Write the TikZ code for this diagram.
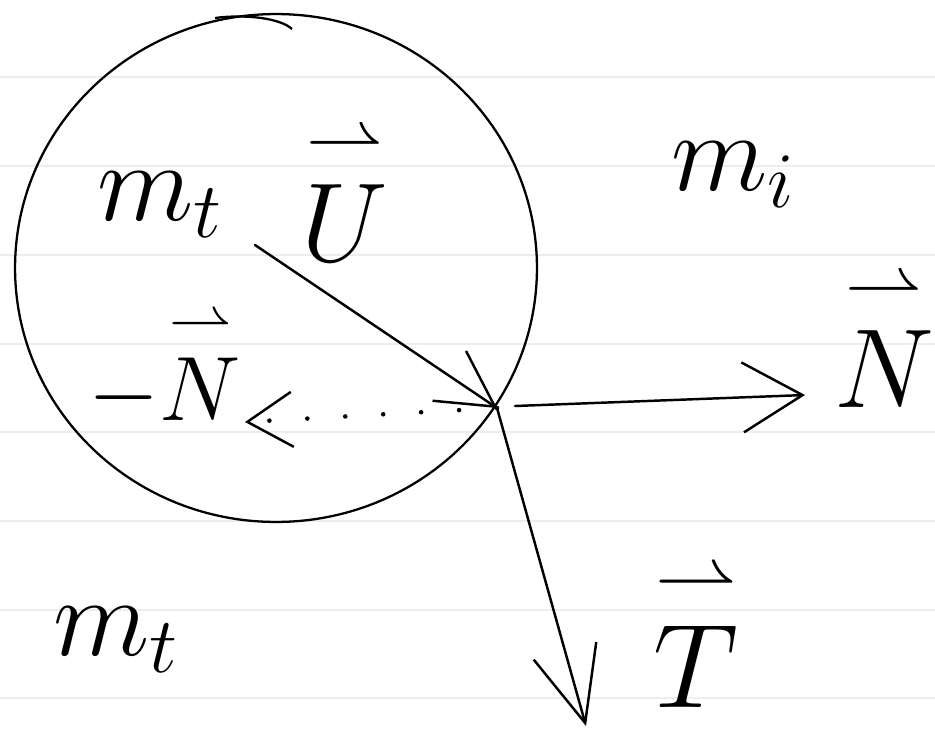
\RequirePackage{fix-cm}
\documentclass[tikz,border=0pt]{standalone}
\usepackage{amsmath,amssymb}
\usepackage{tikz}
\usetikzlibrary{arrows.meta,shapes.geometric}

\newcommand{\hvec}[1]{\overset{\rightharpoonup}{#1}}

\begin{document}
\begin{tikzpicture}[x=0.02cm, y=-0.02cm,
    ruled/.style={draw=black!7, line width=1.2pt},
    body/.style={ellipse, draw=black, line width=1.3pt, minimum width=10.44cm, minimum height=10.16cm, inner sep=0pt},
    vecline/.style={draw, line width=1.4pt, color=black, line cap=round},
    dotline/.style={draw, line width=2.6pt, line cap=round, dash pattern=on 0pt off 0.76cm},
    label/.style={font=\fontsize{64}{64}\selectfont, inner sep=0pt}
]
    \useasboundingbox (0,0) rectangle (935,737);

    % ruled paper
    \foreach \ly in {77,166,255,344,432,521,610,698}
        \draw[ruled] (0,\ly) -- (935,\ly);

    % Body
    \node[body] (ball) at (276,268) {};
    \draw[line width=1.3pt] (215,18) .. controls (245,14) and (280,18) .. (292,29);

    % Points
    \coordinate (P) at (497,408);
    \coordinate (Ustart) at (255,245);
    \coordinate (Nstart) at (515,406);
    \coordinate (Ntip) at (805,395);
    \coordinate (Ttip) at (586,726);
    \coordinate (mNtip) at (245,422);

    % Labels
    \node[label] (mtIn) at (160,205) {$m_t$};
    \node[label] (Ulbl) at (345,192) {$\hvec{U}$};
    \node[label] (mi) at (733,175) {$m_i$};
    \node[label] (Nlbl) at (884,338) {$\hvec{N}$};
    \node[label, font=\fontsize{52}{52}\selectfont] (mNlbl) at (165,368) {$-\hvec{N}$};
    \node[label, font=\fontsize{68}{68}\selectfont] (Tlbl) at (696,634) {$\hvec{T}$};
    \node[label] (mtOut) at (116,640) {$m_t$};

    % Arrows
    \draw[vecline, -{Straight Barb[length=1.1cm,width=1.2cm]}] (Ustart) -- (P);
    \draw[vecline, -{Straight Barb[length=1.2cm,width=1.4cm]}] (Nstart) -- (Ntip);
    \draw[vecline, -{Straight Barb[length=1.5cm,width=1.3cm]}] (P) -- (Ttip);
    \draw[dotline, -{Straight Barb[length=0.9cm,width=1.1cm,line width=1.4pt]}] (P) -- (mNtip);
\end{tikzpicture}
\end{document}
